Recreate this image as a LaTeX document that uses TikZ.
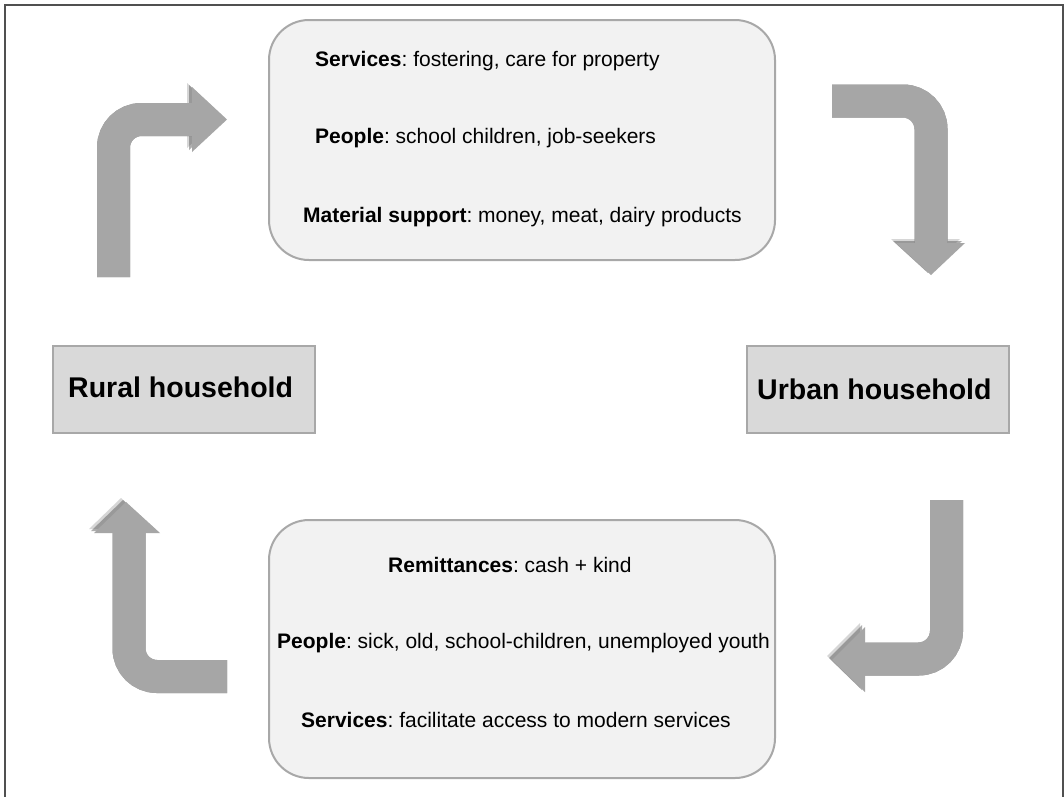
\documentclass[tikz,border=0pt]{standalone}
\usepackage{fontspec}
\setmainfont{Liberation Sans}
\definecolor{arrowgray}{HTML}{A6A6A6}
\definecolor{shadowgray}{HTML}{5E5E5E}
\definecolor{boxfill}{HTML}{F2F2F2}
\definecolor{boxline}{HTML}{A8A8A8}
\definecolor{hhfill}{HTML}{D9D9D9}
\definecolor{framecol}{HTML}{505050}
\begin{document}
\begin{tikzpicture}[x=1pt,y=-1pt,
  shaft/.style={line width=33pt, line cap=butt, rounded corners=28pt},
  flowbox/.style={draw=boxline, line width=2pt, fill=boxfill, rounded corners=40pt},
  hhbox/.style={draw=boxline, line width=2pt, fill=hhfill},
  bodytxt/.style={font=\fontsize{21}{24}\selectfont\frenchspacing, inner sep=0pt, anchor=base west},
  hhtxt/.style={font=\fontsize{28.5}{32}\selectfont\bfseries, inner sep=0pt, anchor=base west}]
\useasboundingbox (0,0) rectangle (1064,796);
\fill[white] (0,0) rectangle (1064,796);
\draw[framecol, line width=2.5pt] (5,805) -- (5,5) -- (1063,5) -- (1063,805);

% arrow key points
\coordinate (a1s) at (113.5,277); \coordinate (a1c) at (113.5,119.5); \coordinate (a1e) at (193,119.5);
\coordinate (a2s) at (832,101); \coordinate (a2c) at (931,101); \coordinate (a2e) at (931,244);
\coordinate (a3s) at (946.5,500); \coordinate (a3c) at (946.5,659); \coordinate (a3e) at (864,659);
\coordinate (a4s) at (227,676.5); \coordinate (a4c) at (129,676.5); \coordinate (a4e) at (129,532);

\newcommand{\arrowset}[1]{%
  \draw[shaft, draw=#1] (a1s) -- (a1c) -- (a1e);
  \fill[#1] (192,87) -- (227,119.5) -- (192,152) -- cycle;
  \draw[shaft, draw=#1] (a2s) -- (a2c) -- (a2e);
  \fill[#1] (896,243) -- (931,275) -- (965,243) -- cycle;
  \draw[shaft, draw=#1] (a3s) -- (a3c) -- (a3e);
  \fill[#1] (865,627) -- (832,660) -- (865,692) -- cycle;
  \draw[shaft, draw=#1] (a4s) -- (a4c) -- (a4e);
  \fill[#1] (94,533) -- (126,502) -- (160,533) -- cycle;
}
\begin{scope}[shift={(-5,-4)}, opacity=0.25]\arrowset{shadowgray}\end{scope}
\begin{scope}[shift={(-3,-2)}, opacity=0.5]\arrowset{shadowgray}\end{scope}
\arrowset{arrowgray}

% boxes
\draw[flowbox] (269,20) rectangle (775,260);
\draw[flowbox] (269,520) rectangle (775,778);
\node[hhbox, minimum width=262pt, minimum height=87pt] (rural) at (184,389.5) {};
\node[hhbox, minimum width=262pt, minimum height=87pt] (urban) at (878,389.5) {};
\node[hhtxt] (ruraltxt) at (68,397) {Rural household};
\node[hhtxt] (urbantxt) at (757,399) {Urban household};

% top box text
\node[bodytxt] (t1) at (315,66) {\textbf{Services}: fostering, care for property};
\node[bodytxt] (t2) at (315,143) {\textbf{People}: school children, job-seekers};
\node[bodytxt] (t3) at (303,222) {\textbf{Material support}: money, meat, dairy products};

% bottom box text
\node[bodytxt] (b1) at (388,572) {\textbf{Remittances}: cash + kind};
\node[bodytxt] (b2) at (277,648) {\textbf{People}: sick, old, school-children, unemployed youth};
\node[bodytxt] (b3) at (301,727) {\textbf{Services}: facilitate access to modern services};
\end{tikzpicture}
\end{document}
